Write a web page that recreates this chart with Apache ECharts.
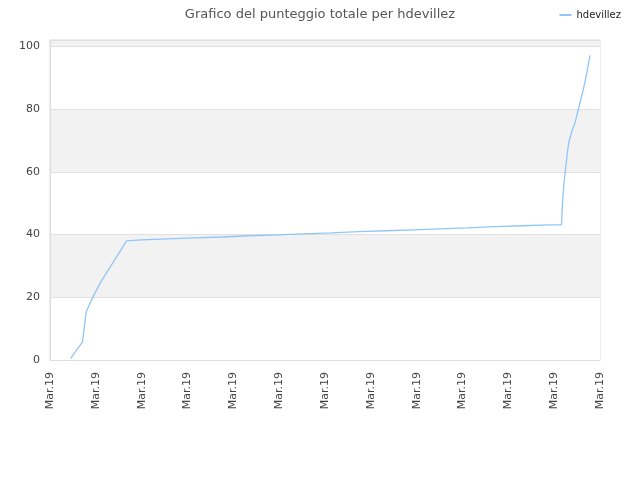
<!DOCTYPE html>
<html>
<head>
<meta charset="utf-8">
<script src="https://cdn.jsdelivr.net/npm/echarts@6/dist/echarts.min.js"></script>
<style>html,body{margin:0;padding:0;background:#fff}#c{width:640px;height:480px}</style>
</head>
<body>
<div id="c"></div>
<script>
const titleText = 'Grafico del punteggio totale per hdevillez';
const seriesName = 'hdevillez';
const tickLabel = 'Mar.19';
// x position in axis units (one unit per tick), y = total score
const xs = [0.45, 0.71, 0.79, 0.94, 1.09, 1.67, 1.99, 2.57, 3.16, 3.75, 4.36, 4.95, 5.54, 6.13, 6.74, 7.33, 7.92, 8.51, 9.10, 9.71, 10.30, 10.89, 11.16, 11.18, 11.21, 11.25, 11.29, 11.32, 11.37, 11.46, 11.55, 11.64, 11.71, 11.78];
const ys = [0.5, 5.8, 15.4, 20.2, 24.4, 38.0, 38.3, 38.6, 38.9, 39.2, 39.6, 39.9, 40.2, 40.5, 40.9, 41.2, 41.5, 41.8, 42.1, 42.5, 42.8, 43.1, 43.1, 49.4, 55.7, 61.1, 66.3, 69.5, 72.2, 75.9, 81.2, 86.5, 91.3, 97.1];
const yTicks = [0, 20, 40, 60, 80, 100];

const chart = echarts.init(document.getElementById('c'));
chart.setOption({
  animation: false,
  textStyle: { fontFamily: 'DejaVu Sans' },
  title: {
    text: titleText, left: 'center', top: 3,
    textStyle: { fontSize: 13, fontWeight: 'normal', color: '#555', fontFamily: 'DejaVu Sans' }
  },
  legend: {
    right: 14, top: 5, itemWidth: 12, itemHeight: 2, itemGap: 8,
    icon: 'rect',
    data: [seriesName],
    textStyle: { fontSize: 10, color: '#222', fontFamily: 'DejaVu Sans' }
  },
  grid: { left: 50, right: 40, top: 40, bottom: 120, show: true, borderColor: '#ddd', borderWidth: 1 },
  xAxis: {
    type: 'value', min: 0, max: 12, interval: 1,
    axisLine: { show: true, lineStyle: { color: '#ddd' } },
    axisTick: { show: false },
    splitLine: { show: false },
    axisLabel: { rotate: 90, formatter: () => tickLabel, color: '#444', fontSize: 11, margin: 12 }
  },
  yAxis: {
    type: 'value', min: 0, max: 102, interval: 20,
    axisLine: { show: true, lineStyle: { color: '#ddd' } },
    axisTick: { show: false },
    splitLine: { show: true, lineStyle: { color: '#e0e0e0' } },
    splitArea: { show: true, areaStyle: { color: ['#ffffff', '#f2f2f2'] } },
    axisLabel: { color: '#444', fontSize: 11, margin: 10,
      formatter: v => (yTicks.indexOf(v) >= 0 ? String(v) : '') }
  },
  series: [{
    name: seriesName, type: 'line', showSymbol: false, symbol: 'none',
    lineStyle: { color: '#92c5f7', width: 1.3 },
    itemStyle: { color: '#92c5f7' },
    data: xs.map((x, i) => [x, ys[i]])
  }]
});
</script>
</body>
</html>
